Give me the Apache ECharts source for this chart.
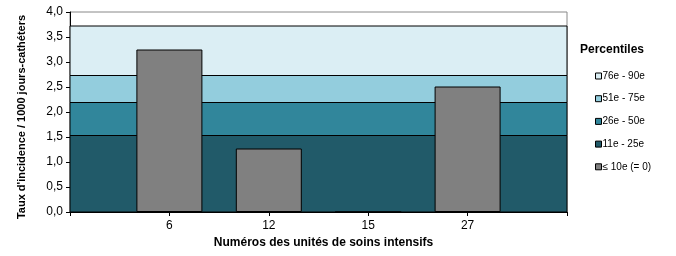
<!DOCTYPE html>
<html><head><meta charset="utf-8">
<script src="https://cdn.jsdelivr.net/npm/echarts@6/dist/echarts.min.js"></script>
<style>html,body{margin:0;padding:0;background:#fff}#c{width:676px;height:256px}</style>
</head><body><div id="c"></div>
<script>
// Data
const categories = ['6', '12', '15', '27'];
const rates = [3.25, 1.27, 0, 2.51];
const bandNames = ['76e - 90e', '51e - 75e', '26e - 50e', '11e - 25e'];
const bandUpper = [3.72, 2.73, 2.19, 1.53];
const bandLower = [2.73, 2.19, 1.53, 0];
const barName = '≤ 10e (= 0)';
const yTicks = [0, 0.5, 1, 1.5, 2, 2.5, 3, 3.5, 4];

const bandColors = ['#DBEEF4', '#93CDDD', '#31869B', '#215A69'];
const font = 'Liberation Sans, Arial, sans-serif';

const series = bandNames.map((n, i) => ({
  name: n, type: 'line', data: [], z: 1,
  itemStyle: { color: bandColors[i], borderColor: '#000', borderWidth: 1 },
  markArea: {
    silent: true,
    itemStyle: { color: bandColors[i], borderColor: '#000', borderWidth: 1 },
    data: [[{ xAxis: 0, yAxis: bandLower[i] }, { xAxis: categories.length + 1, yAxis: bandUpper[i] }]]
  }
}));
series.push({
  name: barName, type: 'bar', z: 5, barWidth: 66,
  itemStyle: { color: '#808080', borderColor: '#000', borderWidth: 1 },
  data: rates.map((v, i) => [i + 1, v])
});

const chart = echarts.init(document.getElementById('c'));
chart.setOption({
  animation: false,
  textStyle: { fontFamily: font },
  grid: { left: 70, right: 109, top: 12, bottom: 44, show: true, borderColor: '#888', borderWidth: 1,
    containLabel: false, outerBoundsMode: 'none' },
  title: { text: 'Percentiles', left: 580, top: 44, padding: 0,
    textStyle: { fontFamily: font, fontSize: 12, fontWeight: 'bold', color: '#000' } },
  legend: {
    orient: 'vertical', left: 595, top: 71, padding: 0, icon: 'rect', itemWidth: 6, itemHeight: 6, itemGap: 12.7,
    data: bandNames.concat([barName]),
    itemStyle: { borderColor: '#000', borderWidth: 1 },
    textStyle: { fontFamily: font, fontSize: 10, color: '#000', lineHeight: 10, padding: [0, 0, 0, -4] }
  },
  xAxis: {
    type: 'value', min: 0, max: categories.length + 1, interval: 1,
    name: 'Numéros des unités de soins intensifs', nameLocation: 'middle', nameGap: 24,
    nameTextStyle: { fontFamily: font, fontSize: 12, fontWeight: 'bold', color: '#000', padding: [0, 0, 0, 10] },
    axisLine: { lineStyle: { color: '#000', width: 1 } },
    axisTick: { show: true, length: 4, lineStyle: { color: '#000' } },
    axisLabel: { fontFamily: font, fontSize: 12, color: '#000', margin: 8,
      formatter: v => (v >= 1 && v <= categories.length) ? categories[v - 1] : '' },
    splitLine: { show: false }
  },
  yAxis: {
    type: 'value', min: 0, max: 4, interval: 0.5,
    name: "Taux d'incidence / 1000 jours-cathéters", nameLocation: 'middle', nameGap: 43,
    nameTextStyle: { fontFamily: font, fontSize: 11, fontWeight: 'bold', color: '#000', padding: [0, 10, 0, 0] },
    axisLine: { show: true, lineStyle: { color: '#000', width: 1 } },
    axisTick: { show: true, length: 4, lineStyle: { color: '#000' } },
    axisLabel: { fontFamily: font, fontSize: 12, color: '#000', margin: 7,
      formatter: v => v.toFixed(1).replace('.', ',') },
    splitLine: { show: false }
  },
  series: series
});
</script></body></html>
